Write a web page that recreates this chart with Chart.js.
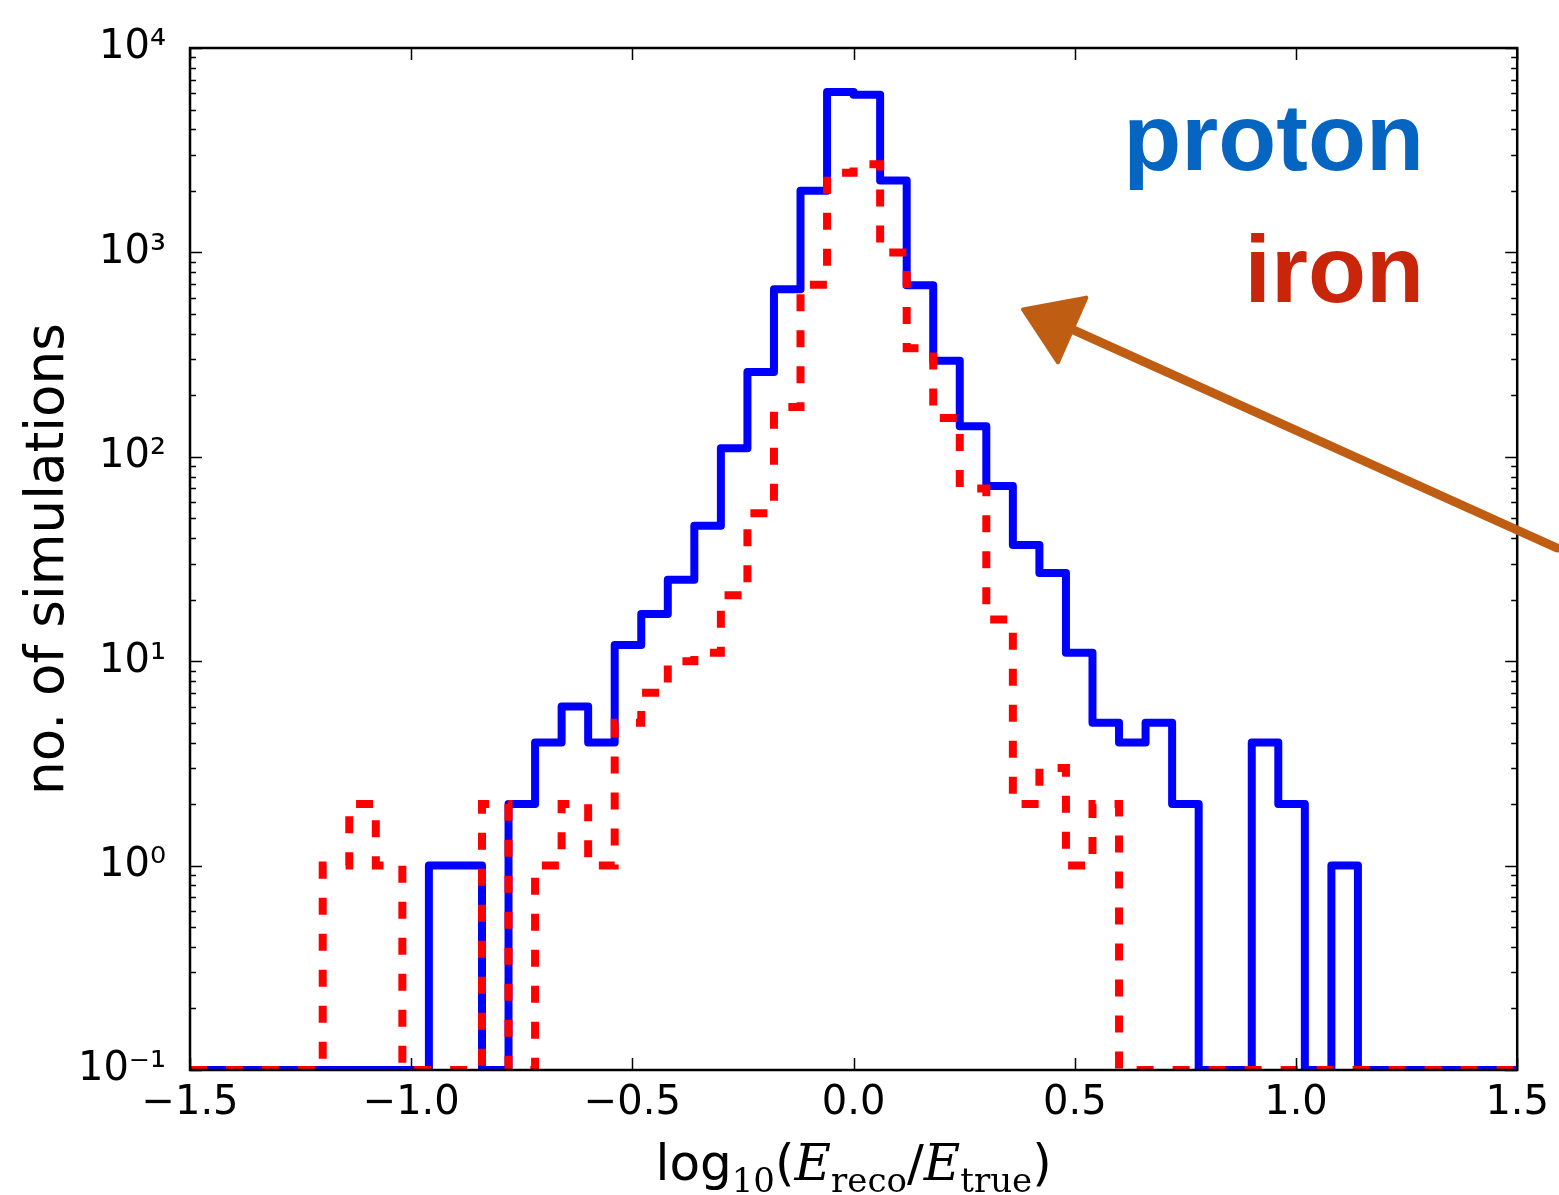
<!DOCTYPE html>
<html>
<head>
<meta charset="utf-8">
<style>
  html, body { margin: 0; padding: 0; background: #ffffff; }
  #wrap { width: 1559px; height: 1195px; position: relative; }
  canvas { display: block; }
</style>
<script src="https://cdn.jsdelivr.net/npm/chart.js@4.4.1/dist/chart.umd.min.js"></script>
</head>
<body>
<div id="wrap"><canvas id="c" width="1559" height="1195"></canvas></div>
<script>
// ---------------- DATA ----------------
const binEdges = [
  -1.50, -1.44, -1.38, -1.32, -1.26, -1.20, -1.14, -1.08, -1.02, -0.96,
  -0.90, -0.84, -0.78, -0.72, -0.66, -0.60, -0.54, -0.48, -0.42, -0.36,
  -0.30, -0.24, -0.18, -0.12, -0.06,  0.00,  0.06,  0.12,  0.18,  0.24,
   0.30,  0.36,  0.42,  0.48,  0.54,  0.60,  0.66,  0.72,  0.78,  0.84,
   0.90,  0.96,  1.02,  1.08,  1.14,  1.20,  1.26,  1.32,  1.38,  1.44,
   1.50
];
const protonCounts = [
  0, 0, 0, 0, 0, 0, 0, 0, 0, 1,
  1, 0, 2, 4, 6, 4, 12, 17, 25, 46,
  110, 260, 660, 2000, 6100, 5900, 2250, 690, 295, 141,
  72, 37, 27, 11, 5, 4, 5, 2, 0, 0,
  4, 2, 0, 1, 0, 0, 0, 0, 0, 0
];
const ironCounts = [
  0, 0, 0, 0, 0, 1, 2, 1, 0, 0,
  0, 2, 0, 1, 2, 1, 5, 7, 10, 11,
  21, 53, 175, 695, 2450, 2700, 1000, 340, 155, 70,
  16, 2, 3, 1, 2, 0, 0, 0, 0, 0,
  0, 0, 0, 0, 0, 0, 0, 0, 0, 0
];
const seriesNames = ['proton', 'iron'];
const xTickValues = [-1.5, -1.0, -0.5, 0.0, 0.5, 1.0, 1.5];
const xTickLabels = ['\u22121.5', '\u22121.0', '\u22120.5', '0.0', '0.5', '1.0', '1.5'];
const yTickValues = [0.1, 1, 10, 100, 1000, 10000];
const yTickLabels = ['10\u207B\u00B9', '10\u2070', '10\u00B9', '10\u00B2', '10\u00B3', '10\u2074'];
const yMin = 0.1, yMax = 10000;
const yAxisTitle = 'no. of simulations';
// arrow annotation (data coordinates): tail -> neck, head tip and head base corners
const arrowTail = [1.59, 35.8];
const arrowNeck = [0.494, 420];
const arrowTip = [0.383, 526];
const arrowHeadA = [0.526, 601];
const arrowHeadB = [0.462, 290];

// ---------------- BUILD ----------------
function stepPoints(counts) {
  const pts = [];
  for (let k = 0; k < counts.length; k++) {
    pts.push({ x: binEdges[k], y: counts[k] > 0 ? counts[k] : yMin });
  }
  const last = counts[counts.length - 1];
  pts.push({ x: binEdges[binEdges.length - 1], y: last > 0 ? last : yMin });
  return pts;
}

const SANS = '"DejaVu Sans", "Bitstream Vera Sans", sans-serif';
const SERIF = '"DejaVu Serif", "Liberation Serif", serif';

const decorPlugin = {
  id: 'decor',
  afterDatasetsDraw(chart) {
    const ctx = chart.ctx;
    const a = chart.chartArea;
    const xs = chart.scales.x, ys = chart.scales.y;
    ctx.save();
    ctx.strokeStyle = '#000';
    ctx.lineWidth = 1.5;
    ctx.beginPath();
    xTickValues.forEach(v => {
      const px = Math.round(xs.getPixelForValue(v)) + 0.5;
      ctx.moveTo(px, a.bottom); ctx.lineTo(px, a.bottom - 12);
      ctx.moveTo(px, a.top); ctx.lineTo(px, a.top + 12);
    });
    for (let e = -1; e <= 4; e++) {
      for (let m = 1; m <= 9; m++) {
        const v = m * Math.pow(10, e);
        if (v < yMin || v > yMax) continue;
        const py = Math.round(ys.getPixelForValue(v)) + 0.5;
        const len = m === 1 ? 12 : 6;
        ctx.moveTo(a.left, py); ctx.lineTo(a.left + len, py);
        ctx.moveTo(a.right, py); ctx.lineTo(a.right - len, py);
      }
    }
    ctx.stroke();
    ctx.lineWidth = 2.5;
    ctx.strokeRect(a.left, a.top, a.right - a.left, a.bottom - a.top);
    ctx.restore();
  },
  afterDraw(chart) {
    const ctx = chart.ctx;
    const a = chart.chartArea;
    const xs = chart.scales.x, ys = chart.scales.y;
    ctx.save();
    // series name labels
    ctx.textAlign = 'right';
    ctx.textBaseline = 'alphabetic';
    ctx.font = 'bold 95px "Liberation Sans", Arial, sans-serif';
    ctx.fillStyle = '#0565c0';
    ctx.fillText(seriesNames[0], 1424, 170);
    ctx.fillStyle = '#c8250a';
    ctx.fillText(seriesNames[1], 1424, 302);

    // arrow
    const P = p => [xs.getPixelForValue(p[0]), ys.getPixelForValue(p[1])];
    const t = P(arrowTail), n = P(arrowNeck), tip = P(arrowTip), hA = P(arrowHeadA), hB = P(arrowHeadB);
    ctx.strokeStyle = '#bf5d12';
    ctx.fillStyle = '#bf5d12';
    ctx.lineCap = 'round';
    ctx.lineJoin = 'round';
    ctx.lineWidth = 9;
    ctx.beginPath();
    ctx.moveTo(t[0], t[1]);
    ctx.lineTo(n[0], n[1]);
    ctx.stroke();
    ctx.lineWidth = 4;
    ctx.beginPath();
    ctx.moveTo(tip[0], tip[1]);
    ctx.lineTo(hA[0], hA[1]);
    ctx.lineTo(hB[0], hB[1]);
    ctx.closePath();
    ctx.fill();
    ctx.stroke();

    // y-axis title (condensed)
    ctx.fillStyle = '#000';
    ctx.save();
    ctx.translate(63, (a.top + a.bottom) / 2);
    ctx.rotate(-Math.PI / 2);
    ctx.font = '54px ' + SANS;
    const w = ctx.measureText(yAxisTitle).width;
    const targetW = 472;
    ctx.scale(targetW / w, 1);
    ctx.textAlign = 'center';
    ctx.textBaseline = 'alphabetic';
    ctx.fillText(yAxisTitle, 0, 0);
    ctx.restore();

    // x-axis title: log10(E_reco / E_true)
    const parts = [
      { t: 'log', f: '50px ' + SANS, dy: 0 },
      { t: '10', f: '34px ' + SERIF, dy: 12 },
      { t: '(', f: '50px ' + SANS, dy: 0 },
      { t: 'E', f: 'italic 50px ' + SERIF, dy: 0 },
      { t: 'reco', f: '34px ' + SERIF, dy: 12 },
      { t: '/', f: '50px ' + SANS, dy: 0 },
      { t: 'E', f: 'italic 50px ' + SERIF, dy: 0 },
      { t: 'true', f: '34px ' + SERIF, dy: 12 },
      { t: ')', f: '50px ' + SANS, dy: 0 }
    ];
    let total = 0;
    parts.forEach(p => { ctx.font = p.f; p.w = ctx.measureText(p.t).width; total += p.w; });
    let x = xs.getPixelForValue(0) - total / 2;
    const base = 1180;
    ctx.textAlign = 'left';
    ctx.textBaseline = 'alphabetic';
    parts.forEach(p => { ctx.font = p.f; ctx.fillText(p.t, x, base + p.dy); x += p.w; });
    ctx.restore();
  }
};

const chart = new Chart(document.getElementById('c'), {
  type: 'line',
  data: {
    datasets: [
      {
        label: seriesNames[0],
        data: stepPoints(protonCounts),
        stepped: 'before',
        borderColor: '#0000ff',
        borderWidth: 8,
        pointRadius: 0,
        fill: false,
        clip: 0,
        order: 2,
        borderJoinStyle: 'round',
        borderCapStyle: 'round'
      },
      {
        label: seriesNames[1],
        data: stepPoints(ironCounts),
        stepped: 'before',
        borderColor: '#ff0000',
        borderWidth: 8,
        borderDash: [17, 19],
        pointRadius: 0,
        fill: false,
        clip: 0,
        order: 1,
        borderJoinStyle: 'miter',
        borderCapStyle: 'butt'
      }
    ]
  },
  options: {
    responsive: false,
    animation: false,
    devicePixelRatio: 1,
    layout: { padding: { left: 0, top: 42, right: 39, bottom: 0 } },
    plugins: { legend: { display: false }, tooltip: { enabled: false } },
    scales: {
      x: {
        type: 'linear',
        min: -1.5, max: 1.5,
        grid: { display: false, drawTicks: false },
        border: { display: false },
        afterFit: s => { s.height = 125; },
        afterBuildTicks: s => { s.ticks = xTickValues.map(v => ({ value: v })); },
        ticks: {
          autoSkip: false,
          maxRotation: 0,
          padding: 10,
          color: '#000',
          font: { family: SANS, size: 40 },
          callback: (v) => { const i = xTickValues.indexOf(v); return i >= 0 ? xTickLabels[i] : ''; }
        }
      },
      y: {
        type: 'logarithmic',
        min: yMin, max: yMax,
        grid: { display: false, drawTicks: false },
        border: { display: false },
        afterFit: s => { s.width = 190; },
        afterBuildTicks: s => { s.ticks = yTickValues.map(v => ({ value: v })); },
        ticks: {
          autoSkip: false,
          padding: 24,
          color: '#000',
          font: { family: SANS, size: 40 },
          callback: (v) => { const i = yTickValues.findIndex(t => Math.abs(t - v) / t < 1e-6); return i >= 0 ? yTickLabels[i] : ''; }
        }
      }
    }
  },
  plugins: [decorPlugin]
});
</script>
</body>
</html>
